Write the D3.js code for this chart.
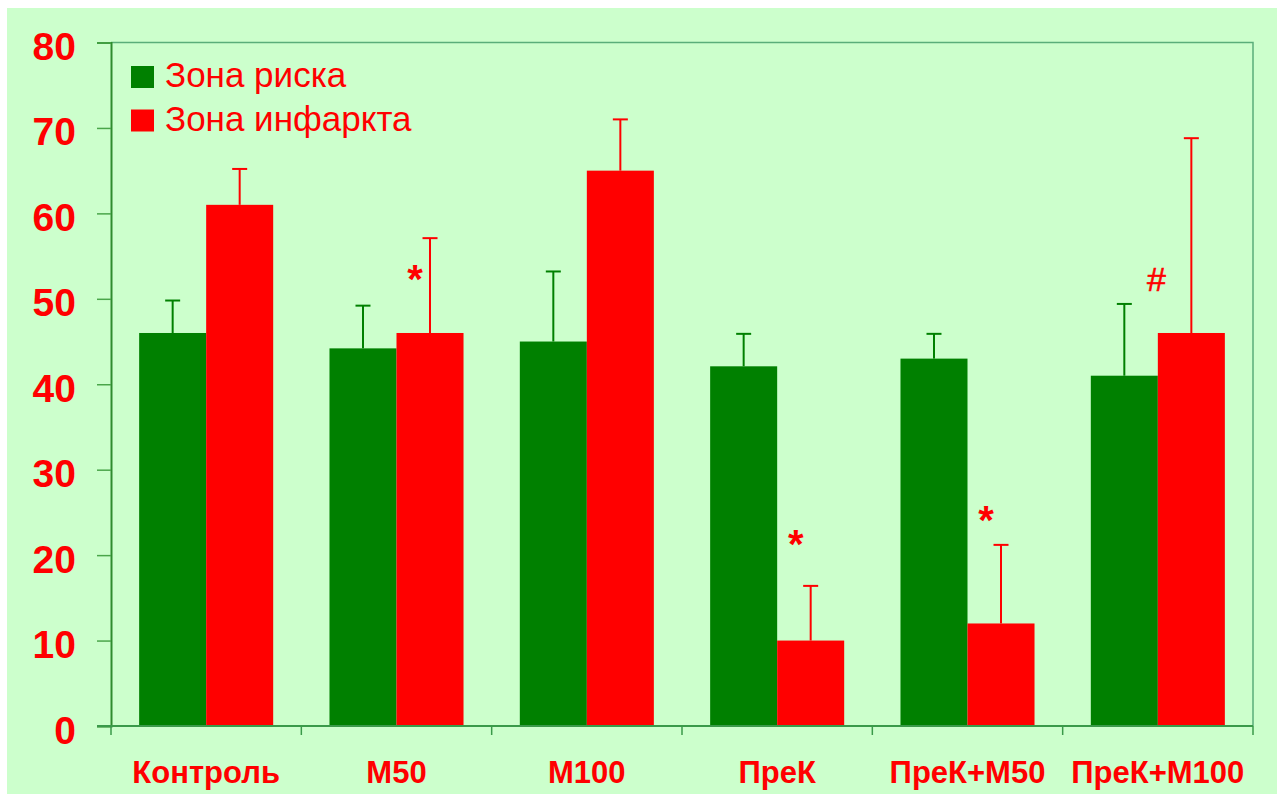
<!DOCTYPE html>
<html>
<head>
<meta charset="utf-8">
<script src="https://cdn.jsdelivr.net/npm/d3@7/dist/d3.min.js"></script>
<style>
  html, body { margin: 0; padding: 0; background: #ffffff; }
  svg { display: block; }
  text { font-family: Arial, "Liberation Sans", sans-serif; }
</style>
</head>
<body>
<svg id="chart" width="1280" height="794"></svg>
<script>
// Groups and series
const categories = ["Контроль", "M50", "M100", "ПреК", "ПреК+M50", "ПреК+M100"];
const seriesNames = ["Зона риска", "Зона инфаркта"];

// Mean values (%)
const riskZone = [46, 44.2, 45, 42.1, 43, 41];
const infarctZone = [61, 46, 65, 10, 12, 46];

// Upper limits of the error bars (mean + SD)
const riskUpper = [49.8, 49.2, 53.2, 45.9, 45.9, 49.4];
const infarctUpper = [65.2, 57.1, 71, 16.4, 21.2, 68.8];

// Significance marks: group, symbol, level on the value axis
const markGroups = ["M50", "ПреК", "ПреК+M50", "ПреК+M100"];
const markSymbols = ["*", "*", "*", "#"];
const markLevels = [52.8, 21.8, 24.6, 52.3];

const yTicks = [0, 10, 20, 30, 40, 50, 60, 70, 80];

const colors = ["#008000", "#ff0000"];
const textRed = "#ff0000";

const svg = d3.select("#chart");

// Page background panel
svg.append("rect")
  .attr("x", 7).attr("y", 8)
  .attr("width", 1270).attr("height", 786)
  .attr("fill", "#ccffcc");

const plot = { left: 111, right: 1253, top: 42.5, bottom: 726 };

const x0 = d3.scaleBand()
  .domain(categories)
  .range([plot.left, plot.right])
  .paddingInner(0).paddingOuter(0);

const x1 = d3.scaleBand()
  .domain(seriesNames)
  .range([0, x0.bandwidth()])
  .paddingInner(0).paddingOuter(0.42);

const y = d3.scaleLinear().domain([0, 80]).range([plot.bottom, plot.top]);

// Frame: top and right edges
svg.append("path")
  .attr("d", `M${plot.left},${plot.top}H${plot.right}V${plot.bottom}`)
  .attr("fill", "none")
  .attr("stroke", "#5aae7a")
  .attr("stroke-width", 1.5);

// Data rows
const rows = categories.map((c, i) => ({
  cat: c,
  vals: [
    { s: seriesNames[0], v: riskZone[i], up: riskUpper[i], color: colors[0] },
    { s: seriesNames[1], v: infarctZone[i], up: infarctUpper[i], color: colors[1] }
  ]
}));

const groups = svg.append("g").selectAll("g")
  .data(rows).join("g")
  .attr("transform", d => `translate(${x0(d.cat)},0)`);

// Error bars (drawn first so bars sit on top of the stem base)
groups.selectAll("g.err")
  .data(d => d.vals).join("g")
  .attr("class", "err")
  .each(function (d) {
    const g = d3.select(this);
    const cx = x1(d.s) + x1.bandwidth() / 2;
    g.append("line")
      .attr("x1", cx).attr("x2", cx)
      .attr("y1", y(d.v)).attr("y2", y(d.up))
      .attr("stroke", d.color).attr("stroke-width", 2);
    g.append("line")
      .attr("x1", cx - 7.5).attr("x2", cx + 7.5)
      .attr("y1", y(d.up)).attr("y2", y(d.up))
      .attr("stroke", d.color).attr("stroke-width", 2);
  });

// Bars
groups.selectAll("rect")
  .data(d => d.vals).join("rect")
  .attr("x", d => x1(d.s))
  .attr("y", d => y(d.v))
  .attr("width", x1.bandwidth())
  .attr("height", d => y(0) - y(d.v))
  .attr("fill", d => d.color);

// Significance marks near the infarct-zone bars
markGroups.forEach((g, i) => {
  const sym = markSymbols[i];
  const cx = x0(g) + x1(seriesNames[1]) + x1.bandwidth() / 2;
  const isHash = sym === "#";
  svg.append("text")
    .attr("x", cx + (isHash ? -35 : -15))
    .attr("y", y(markLevels[i]))
    .attr("dy", isHash ? "0.36em" : "0.45em")
    .attr("text-anchor", "middle")
    .attr("fill", textRed)
    .attr("stroke", isHash ? textRed : "none")
    .attr("stroke-width", isHash ? 0.6 : 0)
    .attr("font-size", isHash ? 34 : 40)
    .attr("font-weight", isHash ? "normal" : "bold")
    .text(sym);
});

// Y axis
const yAxis = d3.axisLeft(y).tickValues(yTicks).tickSize(14).tickFormat(d3.format("d"));
const gy = svg.append("g")
  .attr("transform", `translate(${plot.left},0)`)
  .call(yAxis);
gy.select(".domain").attr("stroke", "#2e8b2e").attr("stroke-width", 2);
gy.selectAll(".tick line").attr("stroke", "#4aa64a").attr("stroke-width", 1.5);
gy.selectAll(".tick text")
  .attr("x", -35)
  .attr("dy", 17)
  .attr("fill", textRed)
  .attr("font-size", 39)
  .attr("font-weight", "bold")
  .attr("font-family", "Arial, 'Liberation Sans', sans-serif");

// X axis: ticks on group boundaries
const gx = svg.append("g");
gx.append("line")
  .attr("x1", plot.left - 14).attr("x2", plot.right)
  .attr("y1", plot.bottom).attr("y2", plot.bottom)
  .attr("stroke", "#3a9a4a").attr("stroke-width", 2);
const boundaries = categories.map(c => x0(c)).concat([x0(categories[categories.length - 1]) + x0.bandwidth()]);
gx.selectAll("line.tk")
  .data(boundaries).join("line")
  .attr("class", "tk")
  .attr("x1", d => d).attr("x2", d => d)
  .attr("y1", plot.bottom).attr("y2", plot.bottom + 9)
  .attr("stroke", "#3a9a4a").attr("stroke-width", 1.5);
gx.selectAll("text")
  .data(categories).join("text")
  .attr("x", d => x0(d) + x0.bandwidth() / 2)
  .attr("y", 783)
  .attr("text-anchor", "middle")
  .attr("fill", textRed)
  .attr("font-size", 31)
  .attr("font-weight", "bold")
  .text(d => d);

// Legend
const legend = svg.append("g").attr("transform", "translate(131,66)");
const li = legend.selectAll("g")
  .data(seriesNames).join("g")
  .attr("transform", (d, i) => `translate(0,${i * 43.5})`);
li.append("rect")
  .attr("width", 23).attr("height", 22)
  .attr("fill", (d, i) => colors[i]);
li.append("text")
  .attr("x", 34).attr("y", 21)
  .attr("fill", textRed)
  .attr("font-size", 35)
  .text(d => d);
</script>
</body>
</html>
